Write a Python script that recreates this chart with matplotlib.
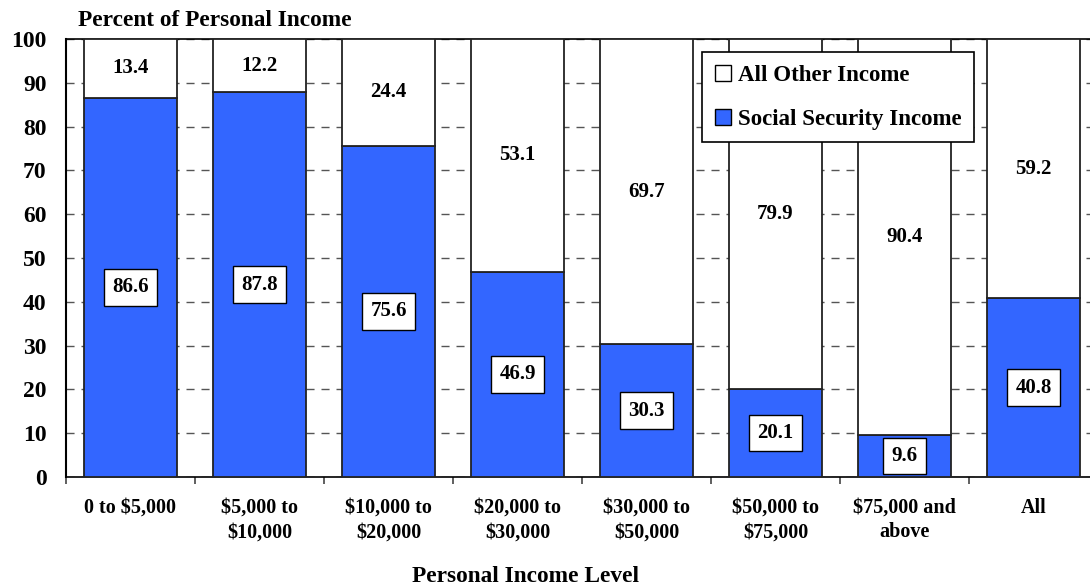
import matplotlib
matplotlib.use("Agg")
import matplotlib.pyplot as plt
from matplotlib.patches import Patch
import numpy as np

# Share of personal income by income bracket
categories = ["0 to $5,000", "$5,000 to\n$10,000", "$10,000 to\n$20,000",
              "$20,000 to\n$30,000", "$30,000 to\n$50,000", "$50,000 to\n$75,000",
              "$75,000 and\nabove", "All"]
social_security = [86.6, 87.8, 75.6, 46.9, 30.3, 20.1, 9.6, 40.8]
other_income = [13.4, 12.2, 24.4, 53.1, 69.7, 79.9, 90.4, 59.2]
y_ticks = list(range(0, 101, 10))

BLUE = "#3366FF"
plt.rcParams["font.family"] = ["Liberation Serif", "DejaVu Serif"]
plt.rcParams["font.weight"] = "bold"

W, H = 1090, 587
fig = plt.figure(figsize=(W / 100, H / 100), dpi=100)
ax = fig.add_axes([66 / W, (H - 477) / H, 1032 / W, 438 / H])

x = np.arange(len(categories))
bw = 0.72
ax.bar(x, social_security, bw, color=BLUE, edgecolor="#222222", linewidth=1.3, zorder=3)
ax.bar(x, other_income, bw, bottom=social_security, color="white",
       edgecolor="#222222", linewidth=1.3, zorder=3)

for xi, ss, oth in zip(x, social_security, other_income):
    ax.text(xi, ss / 2, f"{ss:.1f}", ha="center", va="center", fontsize=15,
            fontweight="bold", zorder=5,
            bbox=dict(boxstyle="square,pad=0.4", fc="white", ec="black", lw=1))
    ax.text(xi, ss + oth / 2, f"{oth:.1f}", ha="center", va="center",
            fontsize=15, fontweight="bold", zorder=5)

ax.set_xlim(-0.5, len(categories) - 0.5)
ax.set_ylim(0, 100)
ax.set_yticks(y_ticks)
ax.set_yticklabels([str(t) for t in y_ticks], fontsize=17, fontweight="bold")
ax.tick_params(axis="y", length=0, pad=14)

# labels at bar centres, short tick marks at category boundaries
ax.set_xticks(x)
ax.set_xticklabels(categories, fontsize=14.5, fontweight="bold", linespacing=1.3)
ax.set_xticks(np.arange(-0.5, len(categories)), minor=True)
ax.tick_params(axis="x", which="major", length=0, pad=15)
ax.tick_params(axis="x", which="minor", length=5, width=1.2, color="#444444",
               direction="out")

ax.yaxis.grid(True, linestyle=(0, (5.8, 5)), color="#555555", linewidth=1.0)
ax.set_axisbelow(True)

for s in ["top", "bottom", "right"]:
    ax.spines[s].set_linewidth(1.2)
    ax.spines[s].set_color("black")
ax.spines["left"].set_linestyle((0, (1.5, 1)))
ax.spines["left"].set_linewidth(1.5)

handles = [Patch(facecolor="white", edgecolor="black", linewidth=1, label="All Other Income"),
           Patch(facecolor=BLUE, edgecolor="black", linewidth=1, label="Social Security Income")]
leg = ax.legend(handles=handles, loc="upper left",
                bbox_to_anchor=((702 - 66) / 1032, (477 - 52) / 438),
                prop={"size": 16.5, "weight": "bold"}, frameon=True, fancybox=False,
                edgecolor="black", framealpha=1, handlelength=0.7, handleheight=0.7,
                handletextpad=0.3, labelspacing=1.0, borderpad=0.55,
                borderaxespad=0)
leg.get_frame().set_linewidth(1.2)
leg.set_zorder(10)

fig.text(78 / W, 1 - 20 / H, "Percent of Personal Income", ha="left", va="center",
         fontsize=16.8, fontweight="bold")
fig.text(526 / W, 1 - 577 / H, "Personal Income Level", ha="center", va="center",
         fontsize=16.8, fontweight="bold")

fig.savefig("out.png", dpi=100)
